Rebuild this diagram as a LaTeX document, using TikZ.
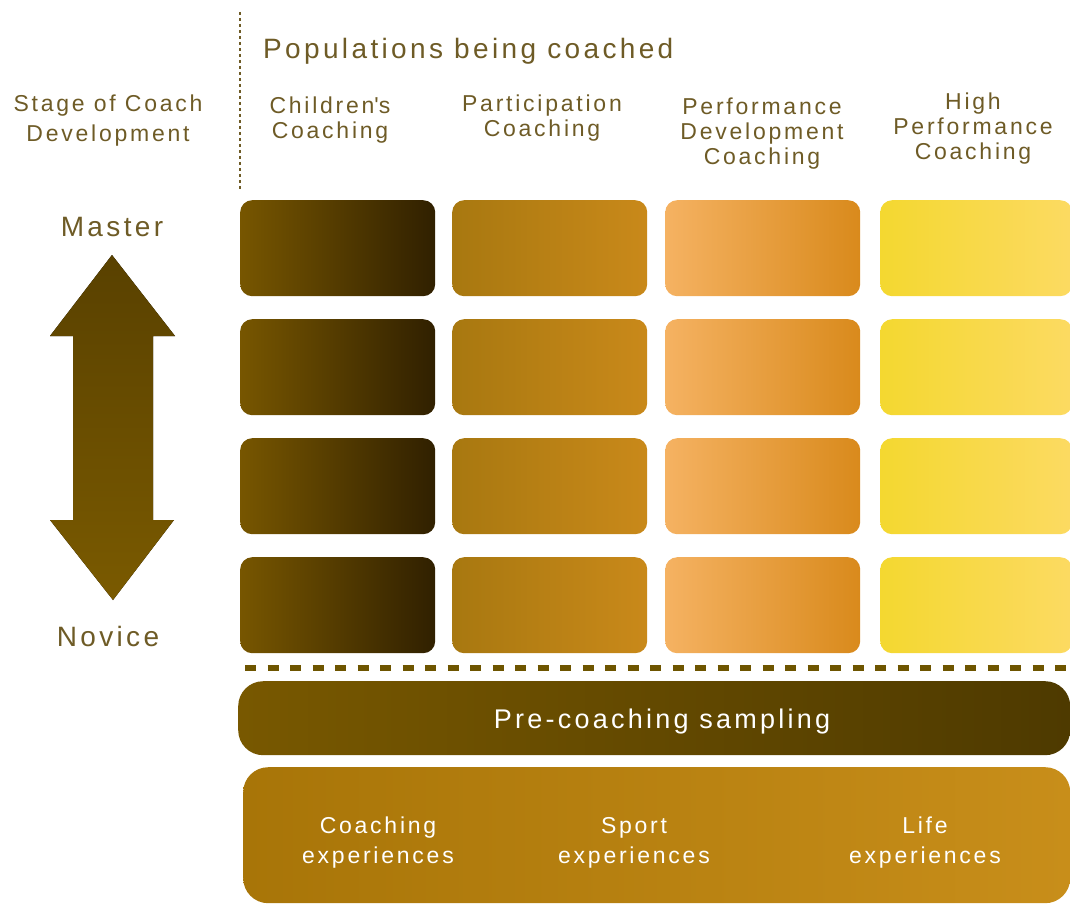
\documentclass[tikz,border=0pt]{standalone}
\usepackage{fontspec}
\setmainfont{Liberation Sans}[LetterSpace=12]
\definecolor{textc}{HTML}{6E5B26}
\definecolor{kidsL}{HTML}{775600}
\definecolor{kidsR}{HTML}{302000}
\definecolor{partL}{HTML}{A87810}
\definecolor{partR}{HTML}{C9891A}
\definecolor{perfL}{HTML}{F5B262}
\definecolor{perfR}{HTML}{D98A1C}
\definecolor{highL}{HTML}{F4D830}
\definecolor{highR}{HTML}{FCDA62}
\definecolor{arrowtop}{HTML}{594100}
\definecolor{arrowbot}{HTML}{7A5A00}
\definecolor{lineC}{HTML}{6E5500}
\definecolor{preL}{HTML}{785800}
\definecolor{preR}{HTML}{4E3A00}
\definecolor{baseL}{HTML}{A87508}
\definecolor{baseR}{HTML}{C88E1A}

\begin{document}
\begin{tikzpicture}[x=1pt,y=-1pt,
    txt/.style={text=textc, font=\fontsize{23}{25}\selectfont, align=center, inner sep=0pt},
    bigtxt/.style={text=textc, font=\fontsize{28}{30}\selectfont, inner sep=0pt},
    whitetxt/.style={text=white, font=\fontsize{23}{30}\selectfont, align=center, inner sep=0pt},
    cell/.style={rounded corners=12pt, minimum width=195pt, minimum height=96pt,
        anchor=north west, inner sep=0pt}]
    \clip (0,0) rectangle (1070,904);
    % headings
    \coordinate (dtop) at (240,12);
    \coordinate (dbot) at (240,190);
    \draw[textc, line width=2pt, dash pattern=on 3pt off 3pt] (dtop) -- (dbot);
    \node[bigtxt, anchor=west] (pop) at (263,51) {Populations being coached};
    \node[txt, font=\fontsize{23}{30}\selectfont] (stage) at (108,121) {Stage of Coach\\Development};
    \node[txt] (kids) at (330,120) {Children\textquotesingle s\\Coaching};
    \node[txt] (part) at (542,118) {Participation\\Coaching};
    \node[txt] (perf) at (762,134) {Performance\\Development\\Coaching};
    \node[txt] (high) at (973,129) {High\\Performance\\Coaching};
    % grid of stages
    \foreach \x/\cl/\w in {240/kids/195,452/part/195,665/perf/195,880/high/192}
      \foreach \y [count=\r] in {200,319,438,557}
        \node[cell, minimum width=\w pt, left color=\cl L, right color=\cl R] (\cl-\r) at (\x,\y) {};
    % master / novice arrow
    \node[bigtxt] (master) at (112,227) {Master};
    \node[bigtxt] (novice) at (108,636) {Novice};
    \fill[top color=arrowtop, bottom color=arrowbot]
        (112,255) -- (175,336) -- (153,336) -- (153,520) -- (174,520) -- (113,600)
        -- (50,520) -- (73,520) -- (73,336) -- (50,336) -- cycle;
    % separator
    \coordinate (sepl) at (245,668);
    \coordinate (sepr) at (1072,668);
    \draw[lineC, line width=6pt, dash pattern=on 11pt off 11.5pt] (sepl) -- (sepr);
    % foundations
    \node[rounded corners=25pt, left color=preL, right color=preR, anchor=north west,
        minimum width=832pt, minimum height=74pt, inner sep=0pt] (pre) at (238,681) {};
    \node[whitetxt, font=\fontsize{27}{30}\selectfont] (pretxt) at (662,722) {Pre-coaching sampling};
    \node[rounded corners=25pt, left color=baseL, right color=baseR, anchor=north west,
        minimum width=827pt, minimum height=136pt, inner sep=0pt] (base) at (243,767) {};
    \node[whitetxt] (coachexp) at (378,843) {Coaching\\experiences};
    \node[whitetxt] (sportexp) at (634,843) {Sport\\experiences};
    \node[whitetxt] (lifeexp) at (925,843) {Life\\experiences};
\end{tikzpicture}
\end{document}
